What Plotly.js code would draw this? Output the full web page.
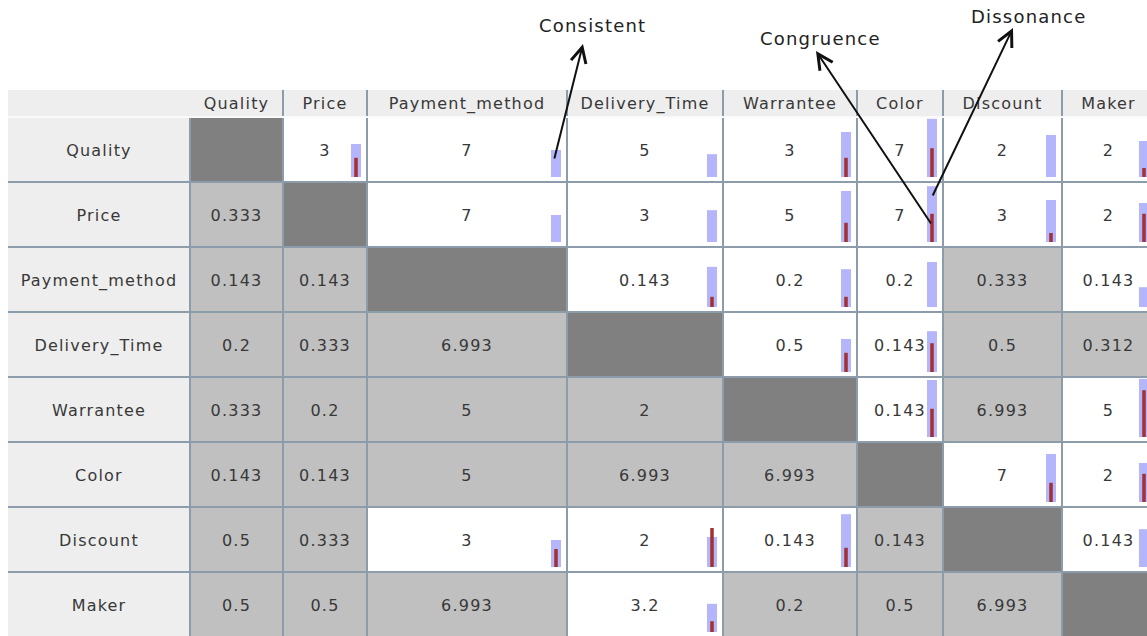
<!DOCTYPE html>
<html>
<head>
<meta charset="utf-8">
<script src="https://cdn.plot.ly/plotly-3.0.1.min.js"></script>
<style>
  html, body { margin: 0; padding: 0; background: #ffffff; }
  #chart { width: 1147px; height: 636px; }
  #chart .main-svg text { letter-spacing: 1.2px; }
</style>
</head>
<body>
<div id="chart"></div>
<script>
// ---------------- DATA ----------------
const criteria = ['Quality', 'Price', 'Payment_method', 'Delivery_Time', 'Warrantee', 'Color', 'Discount', 'Maker'];

// pairwise comparison values shown in each cell (row vs column); '' on diagonal
const cellValues = [
  ['',      '3',     '7',     '5',     '3',     '7',     '2',     '2'],
  ['0.333', '',      '7',     '3',     '5',     '7',     '3',     '2'],
  ['0.143', '0.143', '',      '0.143', '0.2',   '0.2',   '0.333', '0.143'],
  ['0.2',   '0.333', '6.993', '',      '0.5',   '0.143', '0.5',   '0.312'],
  ['0.333', '0.2',   '5',     '2',     '',      '0.143', '6.993', '5'],
  ['0.143', '0.143', '5',     '6.993', '6.993', '',      '7',     '2'],
  ['0.5',   '0.333', '3',     '2',     '0.143', '0.143', '',      '0.143'],
  ['0.5',   '0.5',   '6.993', '3.2',   '0.2',   '0.5',   '6.993', '']
];

// cell state: W = editable (white), G = derived (grey), D = diagonal
const cellState = [
  ['D','W','W','W','W','W','W','W'],
  ['G','D','W','W','W','W','W','W'],
  ['G','G','D','W','W','W','G','W'],
  ['G','G','G','D','W','W','G','G'],
  ['G','G','G','G','D','W','G','W'],
  ['G','G','G','G','G','D','W','W'],
  ['G','G','W','W','W','G','D','W'],
  ['G','G','G','W','G','G','G','D']
];

// blue indicator level (0..1) in the white cells
const blueLevel = [
  [null, 0.55, 0.45, 0.38, 0.75, 0.97, 0.70, 0.60],
  [null, null, 0.45, 0.53, 0.85, 0.93, 0.70, 0.65],
  [null, null, null, 0.67, 0.63, 0.75, null, 0.33],
  [null, null, null, null, 0.55, 0.68, null, null],
  [null, null, null, null, null, 0.95, null, 0.97],
  [null, null, null, null, null, null, 0.80, 0.65],
  [null, null, 0.45, 0.50, 0.88, null, null, 0.63],
  [null, null, null, 0.47, null, null, null, null]
];

// red indicator level (0..1) in the white cells
const redLevel = [
  [null, 0.32, 0,    0,    0.32, 0.48, 0,    0.15],
  [null, null, 0,    0,    0.32, 0.47, 0.15, 0.47],
  [null, null, null, 0.17, 0.17, 0,    null, 0],
  [null, null, null, null, 0.32, 0.48, null, null],
  [null, null, null, null, null, 0.47, null, 0.78],
  [null, null, null, null, null, null, 0.32, 0.47],
  [null, null, 0.30, 0.65, 0.32, null, null, 0],
  [null, null, null, 0.18, null, null, null, null]
];

const callouts = ['Consistent', 'Congruence', 'Dissonance'];
// which cell each callout points at [row, col]
const calloutCell = [[0, 2], [1, 5], [1, 5]];

// ---------------- LAYOUT CONSTANTS ----------------
const W = 1147, H = 636;
const tableLeft = 8, labelRight = 190;
const colWidths = [93, 84, 200, 156, 134, 86, 119, 93];
const headerTop = 90, headerBottom = 117, rowH = 65;
const barMax = 60, barBottomPad = 5, barRightPad = 6, blueW = 10, redW = 3.5;
const textDrop = 2;
const gridColor = '#8d9cab';
const textColor = '#383838';
const font = 'DejaVu Sans, Verdana, sans-serif';

const colEdges = [labelRight];
colWidths.forEach(w => colEdges.push(colEdges[colEdges.length - 1] + w));
const rowEdges = [headerBottom];
criteria.forEach(() => rowEdges.push(rowEdges[rowEdges.length - 1] + rowH));
const tableRight = colEdges[colEdges.length - 1];
const tableBottom = rowEdges[rowEdges.length - 1];
const colCenter = c => (colEdges[c] + colEdges[c + 1]) / 2;
const rowCenter = r => (rowEdges[r] + rowEdges[r + 1]) / 2 + textDrop;

// ---------------- CELLS (heatmap) ----------------
const stateCode = {W: 1, G: 2, D: 3};
const z = [new Array(criteria.length + 1).fill(0)];
cellState.forEach(row => z.push([0].concat(row.map(s => stateCode[s]))));
const xEdges = [tableLeft].concat(colEdges);
const yEdges = [headerTop].concat(rowEdges);

const traces = [];
traces.push({
  type: 'heatmap', x: xEdges, y: yEdges, z: z,
  zmin: 0, zmax: 3, showscale: false, hoverinfo: 'skip',
  colorscale: [[0, '#eeeeee'], [1/3, '#ffffff'], [2/3, '#c0c0c0'], [1, '#808080']]
});

// ---------------- GRID LINES ----------------
const gx = [], gy = [];
for (let r = 1; r < rowEdges.length - 1; r++) { gx.push(tableLeft, tableRight, null); gy.push(rowEdges[r], rowEdges[r], null); }
gx.push(labelRight, labelRight, null); gy.push(headerBottom, tableBottom, null);
for (let c = 1; c < colEdges.length; c++) { gx.push(colEdges[c], colEdges[c], null); gy.push(headerTop, tableBottom, null); }
traces.push({type: 'scatter', mode: 'lines', x: gx, y: gy, line: {color: gridColor, width: 2}, hoverinfo: 'skip'});
traces.push({type: 'scatter', mode: 'lines', x: [tableLeft, tableRight], y: [headerBottom, headerBottom],
  line: {color: '#fafafa', width: 2}, hoverinfo: 'skip'});

// ---------------- BARS ----------------
function barTrace(levels, width, color) {
  const bx = [], by = [], bb = [], bw = [];
  levels.forEach((row, r) => row.forEach((v, c) => {
    if (v === null || v === 0) return;
    bx.push(colEdges[c + 1] - barRightPad - blueW / 2);
    bb.push(rowEdges[r + 1] - barBottomPad);
    by.push(-v * barMax);
    bw.push(width);
  }));
  return {type: 'bar', x: bx, y: by, base: bb, width: bw, marker: {color: color, line: {width: 0}}, hoverinfo: 'skip'};
}
traces.push(barTrace(blueLevel, blueW, '#b5b5fb'));
traces.push(barTrace(redLevel, redW, '#a23131'));

// ---------------- TEXT ----------------
const tx = [], ty = [], tt = [];
cellValues.forEach((row, r) => row.forEach((v, c) => { if (v) { tx.push(colCenter(c)); ty.push(rowCenter(r)); tt.push(v); } }));
traces.push({type: 'scatter', mode: 'text', x: tx, y: ty, text: tt,
  textfont: {family: font, size: 16, color: textColor}, hoverinfo: 'skip', cliponaxis: false});
traces.push({type: 'scatter', mode: 'text', x: criteria.map((_, c) => colCenter(c)),
  y: criteria.map(() => (headerTop + headerBottom) / 2 + 1), text: criteria,
  textfont: {family: font, size: 16, color: textColor}, hoverinfo: 'skip', cliponaxis: false});
traces.push({type: 'scatter', mode: 'text', x: criteria.map(() => (tableLeft + labelRight) / 2),
  y: criteria.map((_, r) => rowCenter(r)), text: criteria,
  textfont: {family: font, size: 16, color: textColor}, hoverinfo: 'skip', cliponaxis: false});

// ---------------- CALLOUTS ----------------
const calloutText = [[592, 25], [820, 38], [1028, 16]];
const calloutTip = [[583, 44], [816, 51], [1013, 28]];
const calloutTailOffset = [[-13, -22], [-11, -22], [-11, -50]];
const annotations = [];
callouts.forEach((t, i) => {
  const [r, c] = calloutCell[i];
  annotations.push({x: calloutText[i][0], y: calloutText[i][1], xref: 'x', yref: 'y', text: t, showarrow: false,
    font: {family: font, size: 18, color: '#222222'}});
  annotations.push({x: calloutTip[i][0], y: calloutTip[i][1], xref: 'x', yref: 'y', text: '',
    showarrow: true, arrowhead: 5, arrowsize: 1.5, arrowwidth: 2, arrowcolor: '#111111', standoff: 0,
    axref: 'x', ayref: 'y',
    ax: colEdges[c + 1] + calloutTailOffset[i][0], ay: rowEdges[r + 1] + calloutTailOffset[i][1]});
});

const layout = {
  width: W, height: H, margin: {l: 0, r: 0, t: 0, b: 0},
  paper_bgcolor: '#ffffff', plot_bgcolor: '#ffffff',
  showlegend: false, barmode: 'overlay', annotations: annotations,
  xaxis: {range: [0, W], visible: false, fixedrange: true},
  yaxis: {range: [H, 0], visible: false, fixedrange: true}
};

Plotly.newPlot('chart', traces, layout, {staticPlot: true, displayModeBar: false});
</script>
</body>
</html>
